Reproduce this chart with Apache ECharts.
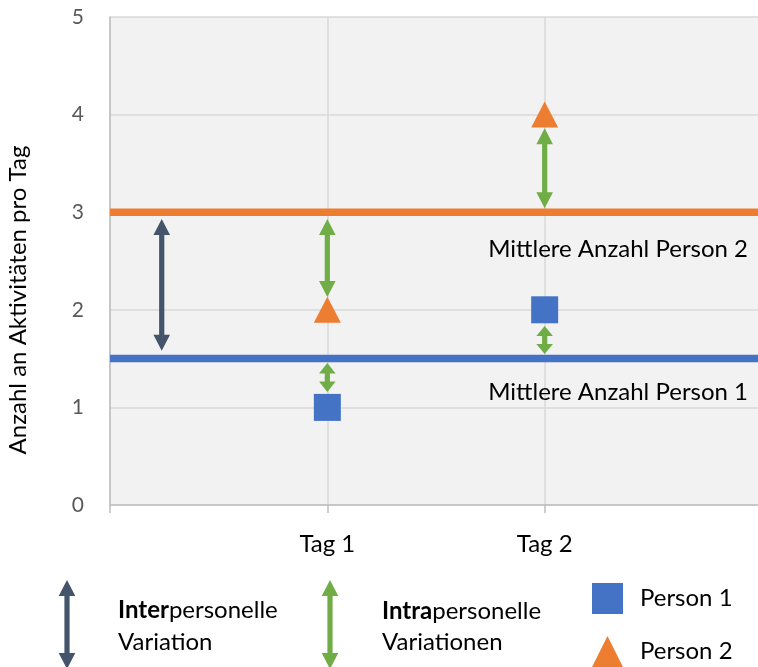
<!DOCTYPE html>
<html>
<head>
<meta charset="utf-8">
<script src="https://cdn.jsdelivr.net/npm/echarts@6/dist/echarts.min.js"></script>
<style>
html,body{margin:0;padding:0;background:#fff;}
#chart{width:758px;height:667px;}
</style>
</head>
<body>
<div id="chart"></div>
<script>
// ---- data ----
var xTickLabels = ['', 'Tag 1', 'Tag 2', ''];
var yTicks = [0, 1, 2, 3, 4, 5];
var person1 = [[1, 1], [2, 2]];
var person2 = [[1, 2], [2, 4]];
var meanPerson1 = 1.5;
var meanPerson2 = 3.0;
var meanLabels = ['Mittlere Anzahl Person 1', 'Mittlere Anzahl Person 2'];
// arrows: [x, yFrom, yTo]
var interArrow = [[0.238, 2.93, 1.58]];
var intraArrows = [[1, 2.93, 2.13], [1, 1.455, 1.158], [2, 3.86, 3.04], [2, 1.834, 1.547]];
var yTitle = 'Anzahl an Aktivitäten pro Tag';

var FONT = 'Lato';
var C_BLUE = '#4472C4', C_ORANGE = '#ED7D31', C_GREEN = '#70AD47', C_DARK = '#44546A';

function arrowPoints(cx, top, bot) {
  var len = bot - top;
  var hl = Math.min(16, len * 0.36), hw = 8.3, sw = 2.6;
  return [[cx, top], [cx + hw, top + hl], [cx + sw, top + hl], [cx + sw, bot - hl], [cx + hw, bot - hl],
          [cx, bot], [cx - hw, bot - hl], [cx - sw, bot - hl], [cx - sw, top + hl], [cx - hw, top + hl]];
}
function arrowRender(color) {
  return function (params, api) {
    var p1 = api.coord([api.value(0), api.value(1)]);
    var p2 = api.coord([api.value(0), api.value(2)]);
    var top = Math.min(p1[1], p2[1]), bot = Math.max(p1[1], p2[1]);
    return { type: 'polygon', shape: { points: arrowPoints(p1[0], top, bot) }, style: { fill: color } };
  };
}

var chart = echarts.init(document.getElementById('chart'));
var legendText = { fontFamily: FONT, fontSize: 24, color: '#000', padding: [0, 0, 0, 12] };
var option = {
  animation: false,
  backgroundColor: '#ffffff',
  grid: { left: 110, top: 17, width: 652, height: 488, outerBoundsMode: 'none', containLabel: false, show: true, backgroundColor: '#F2F2F2', borderWidth: 0 },
  xAxis: {
    type: 'value', min: 0, max: 3, interval: 1,
    axisLine: { show: true, lineStyle: { color: '#BFBFBF', width: 1.5 } },
    axisTick: { show: true, length: 8, lineStyle: { color: '#BFBFBF', width: 1.5 } },
    splitLine: { show: true, lineStyle: { color: '#D9D9D9', width: 1.5 } },
    axisLabel: { formatter: function (v) { return xTickLabels[Math.round(v)] || ''; }, color: '#000', fontFamily: FONT, fontSize: 24, margin: 27 }
  },
  yAxis: {
    type: 'value', min: yTicks[0], max: yTicks[yTicks.length - 1], interval: 1,
    axisLine: { show: true, lineStyle: { color: '#BFBFBF', width: 1.5 } },
    axisTick: { show: false },
    splitLine: { show: true, lineStyle: { color: '#D9D9D9', width: 1.5 } },
    axisLabel: { color: '#595959', fontFamily: FONT, fontSize: 21, margin: 26 }
  },
  legend: [
    { data: ['Person 1'], orient: 'vertical', left: 592, top: 583, padding: 0, itemWidth: 31, itemHeight: 31, textStyle: legendText },
    { data: ['Person 2'], orient: 'vertical', left: 592, top: 636, padding: 0, itemWidth: 31, itemHeight: 31, textStyle: legendText }
  ],
  series: [
    { type: 'line', name: 'mean1', data: [[0, meanPerson1], [3, meanPerson1]], symbol: 'none', lineStyle: { color: C_BLUE, width: 7.5 }, z: 2, silent: true },
    { type: 'line', name: 'mean2', data: [[0, meanPerson2], [3, meanPerson2]], symbol: 'none', lineStyle: { color: C_ORANGE, width: 7.5 }, z: 2, silent: true },
    { type: 'custom', name: 'inter', data: interArrow, renderItem: arrowRender(C_DARK), z: 3 },
    { type: 'custom', name: 'intra', data: intraArrows, renderItem: arrowRender(C_GREEN), z: 3 },
    { type: 'scatter', name: 'Person 1', data: person1, symbol: 'rect', symbolSize: 27, itemStyle: { color: C_BLUE, opacity: 1 }, z: 4 },
    { type: 'scatter', name: 'Person 2', data: person2, symbol: 'triangle', symbolSize: [27, 26], itemStyle: { color: C_ORANGE, opacity: 1 }, z: 4 }
  ],
  graphic: [
    { type: 'text', z: 20, right: 10, top: 237, style: { text: meanLabels[1], fontFamily: FONT, fontSize: 24, fill: '#000' } },
    { type: 'text', z: 20, right: 10, top: 380, style: { text: meanLabels[0], fontFamily: FONT, fontSize: 24, fill: '#000' } },
    { type: 'text', x: 18, y: 300, rotation: Math.PI / 2, style: { text: yTitle, fontFamily: FONT, fontSize: 24, fill: '#000', align: 'center', verticalAlign: 'middle' } },
    { type: 'polygon', shape: { points: arrowPoints(67, 580, 669) }, style: { fill: C_DARK } },
    { type: 'polygon', shape: { points: arrowPoints(330, 580, 669) }, style: { fill: C_GREEN } },
    { type: 'text', x: 118, y: 594, style: { text: '{b|Inter}personelle\nVariation', fontFamily: FONT, fontSize: 24, lineHeight: 32, fill: '#000', rich: { b: { fontWeight: 'bold', fontFamily: FONT, fontSize: 24, lineHeight: 32 } } } },
    { type: 'text', x: 382, y: 596, style: { text: '{b|Intra}personelle\nVariationen', fontFamily: FONT, fontSize: 24, lineHeight: 31, fill: '#000', rich: { b: { fontWeight: 'bold', fontFamily: FONT, fontSize: 24, lineHeight: 31 } } } }
  ]
};
chart.setOption(option);
</script>
</body>
</html>
